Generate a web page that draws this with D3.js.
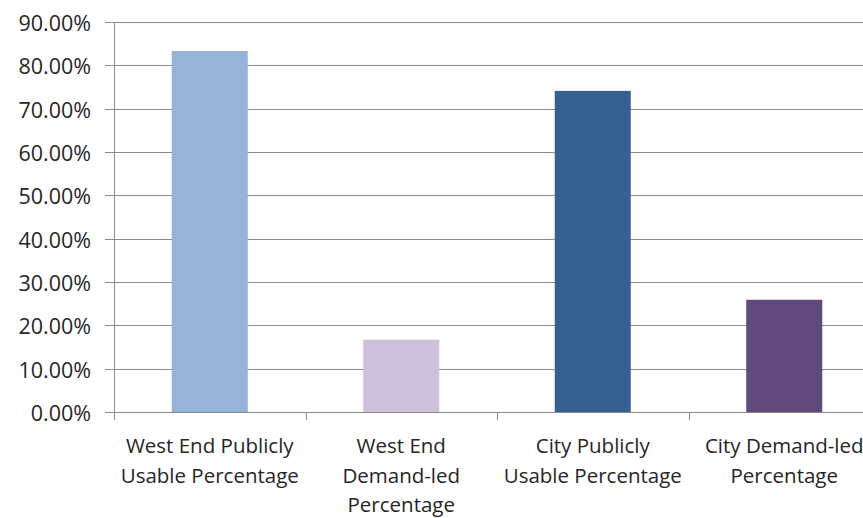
<!DOCTYPE html>
<html>
<head>
<meta charset="utf-8">
<script src="https://cdn.jsdelivr.net/npm/d3@7"></script>
<style>
  html, body { margin: 0; padding: 0; background: #ffffff; overflow: hidden; }
  svg { display: block; }
  text { font-family: "Open Sans", sans-serif; fill: #262626; }
</style>
</head>
<body>
<svg id="chart" width="863" height="518"></svg>
<script>
// Share of floorspace by location and type
const categories = [
  ["West End Publicly", "Usable Percentage"],
  ["West End", "Demand-led", "Percentage"],
  ["City Publicly", "Usable Percentage"],
  ["City Demand-led", "Percentage"]
];
const values = [0.833, 0.167, 0.741, 0.259];
const barColors = ["#95b3d7", "#ccc1da", "#366092", "#604a7b"];
const yTicks = [0, 0.1, 0.2, 0.3, 0.4, 0.5, 0.6, 0.7, 0.8, 0.9];

const svg = d3.select("#chart");
const plotLeft = 114, plotRight = 880, plotTop = 22, plotBottom = 412;

const x = d3.scaleBand()
  .domain(d3.range(categories.length))
  .range([plotLeft, plotRight])
  .paddingInner(0.603)
  .paddingOuter(0.3015);

const y = d3.scaleLinear().domain([0, 0.9]).range([plotBottom, plotTop]);
const fmt = d3.format(".2%");
const gridColor = "#8a8a8a";

// horizontal gridlines with short ticks left of the axis
const grid = svg.append("g");
yTicks.forEach(t => {
  const yy = Math.round(y(t)) + 0.5;
  grid.append("line")
    .attr("x1", 105).attr("x2", 863)
    .attr("y1", yy).attr("y2", yy)
    .attr("stroke", gridColor).attr("stroke-width", 1);
  grid.append("text")
    .attr("x", 91).attr("y", yy)
    .attr("text-anchor", "end")
    .attr("dominant-baseline", "central")
    .attr("font-size", 21.5)
    .text(fmt(t));
});

// vertical axis
svg.append("line")
  .attr("x1", plotLeft + 0.5).attr("x2", plotLeft + 0.5)
  .attr("y1", Math.round(y(0.9))).attr("y2", plotBottom + 1)
  .attr("stroke", gridColor);

// bars
svg.append("g").selectAll("rect")
  .data(values)
  .join("rect")
  .attr("x", (d, i) => x(i))
  .attr("width", x.bandwidth())
  .attr("y", d => y(d))
  .attr("height", d => y(0) - y(d))
  .attr("fill", (d, i) => barColors[i]);

// category boundary ticks below the baseline
const step = x.step();
d3.range(categories.length + 1).forEach(i => {
  const xx = Math.round(plotLeft + i * step) + 0.5;
  svg.append("line")
    .attr("x1", xx).attr("x2", xx)
    .attr("y1", plotBottom).attr("y2", plotBottom + 8)
    .attr("stroke", gridColor);
});

// category labels
const labels = svg.append("g");
categories.forEach((lines, i) => {
  const cx = x(i) + x.bandwidth() / 2;
  const t = labels.append("text")
    .attr("text-anchor", "middle")
    .attr("font-size", 20.5);
  lines.forEach((ln, k) => {
    t.append("tspan")
      .attr("x", cx)
      .attr("y", 453 + k * 29.5)
      .text(ln);
  });
});
</script>
</body>
</html>
